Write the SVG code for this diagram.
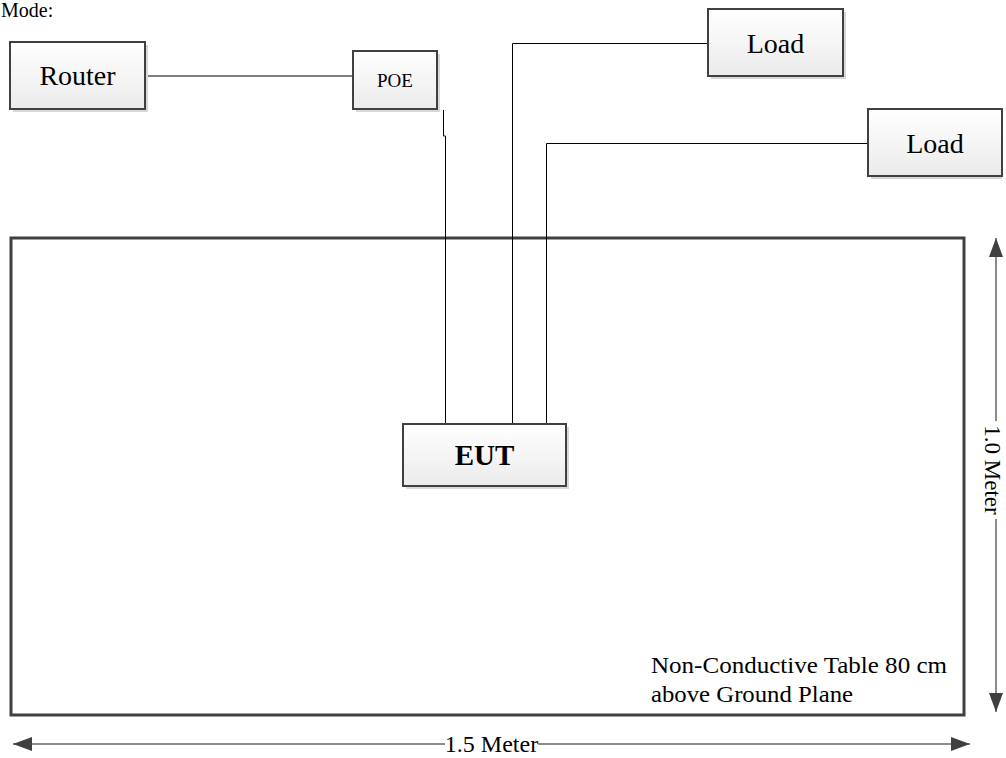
<svg xmlns="http://www.w3.org/2000/svg" width="1006" height="758" viewBox="0 0 1006 758">
<defs>
<linearGradient id="g" x1="0" y1="0" x2="0" y2="1"><stop offset="0" stop-color="#ffffff"/><stop offset="1" stop-color="#ebebeb"/></linearGradient>
<marker id="ah" markerWidth="20" markerHeight="16" refX="19" refY="7" orient="auto-start-reverse" markerUnits="userSpaceOnUse"><path d="M0,0 L19,7 L0,14 Z" fill="#404040"/></marker>
<style>
.box{fill:url(#g);stroke:#404040;stroke-width:2}
.sh{fill:#d8d8d8}
.t{font-family:"Liberation Serif","Times New Roman",serif;fill:#000;text-anchor:middle}
.w{fill:none;stroke:#000;stroke-width:1}
.dim{fill:none;stroke:#666;stroke-width:1.5}
</style>
</defs>
<rect width="1006" height="758" fill="#fff"/>
<text x="1" y="17" class="t" style="text-anchor:start;font-size:20px">Mode:</text>
<g id="table">
<rect x="11" y="238" width="953" height="477" fill="none" stroke="#404040" stroke-width="3"/>
<text x="651" y="673" class="t" style="text-anchor:start;font-size:24px" textLength="296" lengthAdjust="spacingAndGlyphs">Non-Conductive Table 80 cm</text>
<text x="651" y="702" class="t" style="text-anchor:start;font-size:24px" textLength="202" lengthAdjust="spacingAndGlyphs">above Ground Plane</text>
</g>
<g id="connectors">
<path class="w" d="M145 76 H353"/>
<path class="w" d="M443.5 110 V136 H445.5 V424"/>
<path class="w" d="M708 43.5 H512.5 V424"/>
<path class="w" d="M868 143.5 H546.5 V424"/>
</g>
<g id="router"><rect class="sh" x="13" y="45" width="135" height="67"/><rect class="box" x="10" y="42" width="135" height="67"/><text x="77.5" y="85" class="t" style="font-size:28px">Router</text></g>
<g id="poe"><rect class="sh" x="356" y="54" width="84" height="58"/><rect class="box" x="353" y="51" width="84" height="58"/><text x="395" y="87" class="t" style="font-size:19px">POE</text></g>
<g id="load1"><rect class="sh" x="711" y="12" width="135" height="67"/><rect class="box" x="708" y="9" width="135" height="67"/><text x="775.5" y="53" class="t" style="font-size:28px">Load</text></g>
<g id="load2"><rect class="sh" x="871" y="112" width="131" height="67"/><rect class="box" x="868" y="109" width="134" height="67"/><text x="935" y="153" class="t" style="font-size:28px">Load</text></g>
<g id="eut"><rect class="sh" x="406" y="427" width="163" height="62"/><rect class="box" x="403" y="424" width="163" height="62"/><text x="484.5" y="465" class="t" style="font-size:29px;font-weight:bold">EUT</text></g>
<g id="dimensions">
<path class="dim" d="M445 744 H13" marker-end="url(#ah)"/>
<path class="dim" d="M538 744 H970" marker-end="url(#ah)"/>
<text x="491.5" y="752" class="t" style="font-size:24px">1.5 Meter</text>
<path class="dim" d="M996 421 V238" marker-end="url(#ah)"/>
<path class="dim" d="M996 519 V712" marker-end="url(#ah)"/>
<text x="0" y="0" class="t" style="font-size:23px" transform="translate(985 470) rotate(90)">1.0 Meter</text>
</g>
</svg>
